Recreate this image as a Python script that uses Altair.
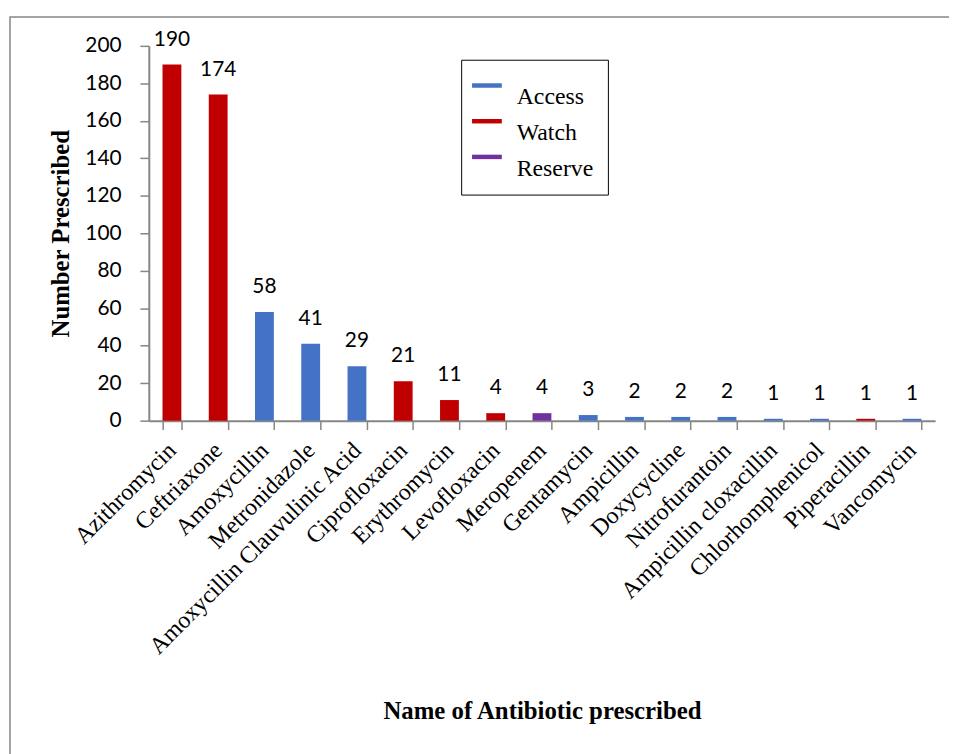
import altair as alt
import pandas as pd

names = ["Azithromycin", "Ceftriaxone", "Amoxycillin", "Metronidazole",
         "Amoxycillin Clauvulinic Acid", "Ciprofloxacin", "Erythromycin",
         "Levofloxacin", "Meropenem", "Gentamycin", "Ampicillin", "Doxycycline",
         "Nitrofurantoin", "Ampicillin cloxacillin", "Chlorhomphenicol",
         "Piperacillin", "Vancomycin"]
values = [190, 174, 58, 41, 29, 21, 11, 4, 4, 3, 2, 2, 2, 1, 1, 1, 1]
groups = ["Watch", "Watch", "Access", "Access", "Access", "Watch", "Watch",
          "Watch", "Reserve", "Access", "Access", "Access", "Access", "Access",
          "Access", "Watch", "Access"]
group_order = ["Access", "Watch", "Reserve"]
group_colors = ["#4472C4", "#C00000", "#7030A0"]
y_ticks = [0, 20, 40, 60, 80, 100, 120, 140, 160, 180, 200]

df = pd.DataFrame({"name": names, "value": values, "group": groups})

W, H = 793, 378
SERIF = "Liberation Serif"
SANS = "Lato"
GREY = "#868686"

x_enc = alt.X("name:N", sort=names,
              scale=alt.Scale(paddingInner=0.58, paddingOuter=0.29),
              axis=alt.Axis(title="Name of Antibiotic prescribed", labelAngle=-45,
                            labelAlign="right", labelBaseline="middle",
                            labelFont=SERIF, labelFontSize=24, labelColor="black",
                            labelPadding=17, tickBand="extent", tickSize=9,
                            tickColor=GREY, domainColor=GREY, domainWidth=2,
                            tickWidth=1.5, labelLimit=400,
                            titleFont=SERIF, titleFontSize=25, titleFontWeight="bold",
                            titleColor="black", titleY=280, titleBaseline="top"))

y_enc = alt.Y("value:Q", scale=alt.Scale(domain=[0, 200]),
              axis=alt.Axis(title="Number Prescribed", values=y_ticks,
                            grid=False, tickSize=9, tickColor=GREY, domainColor=GREY,
                            domainWidth=2, tickWidth=1.5, labelPadding=19,
                            labelFont=SANS, labelFontSize=21, labelColor="black",
                            titleFont=SERIF, titleFontSize=25, titleFontWeight="bold",
                            titleColor="black", titleX=-76, titleY=H / 2,
                            titleAlign="center", titleBaseline="bottom"))

bars = alt.Chart(df).mark_bar(size=19).encode(
    x=x_enc, y=y_enc,
    color=alt.Color("group:N",
                    scale=alt.Scale(domain=group_order, range=group_colors),
                    legend=alt.Legend(title=None, orient="none", legendX=315, legendY=14,
                                      symbolType="M-2,-0.3H2V0.3H-2Z", symbolSize=225,
                                      symbolStrokeWidth=0, labelFont=SERIF,
                                      labelFontSize=24, labelColor="black",
                                      labelBaseline="top", labelOffset=18,
                                      rowPadding=-8, padding=14,
                                      strokeColor="black", fillColor="white")))

labels = alt.Chart(df).mark_text(baseline="alphabetic", dy=-19, font=SANS,
                                 fontSize=21, color="black").encode(
    x=x_enc, y=y_enc, text="value:Q")

frame = alt.Chart(pd.DataFrame({"f": [0]})).mark_rect(
    fill=None, stroke=GREY, strokeWidth=1.5).encode(
    x=alt.value(-140), x2=alt.value(812), y=alt.value(-29), y2=alt.value(720))

chart = alt.layer(frame, bars, labels).properties(
    width=W, height=H,
    autosize=alt.AutoSizeParams(type="none"),
    padding={"left": 142, "top": 35, "right": 14, "bottom": 333},
).configure_view(stroke=None).configure_axis(labelOverlap=False)

chart.save("out.html", embed_options={"renderer": "svg", "actions": False})
